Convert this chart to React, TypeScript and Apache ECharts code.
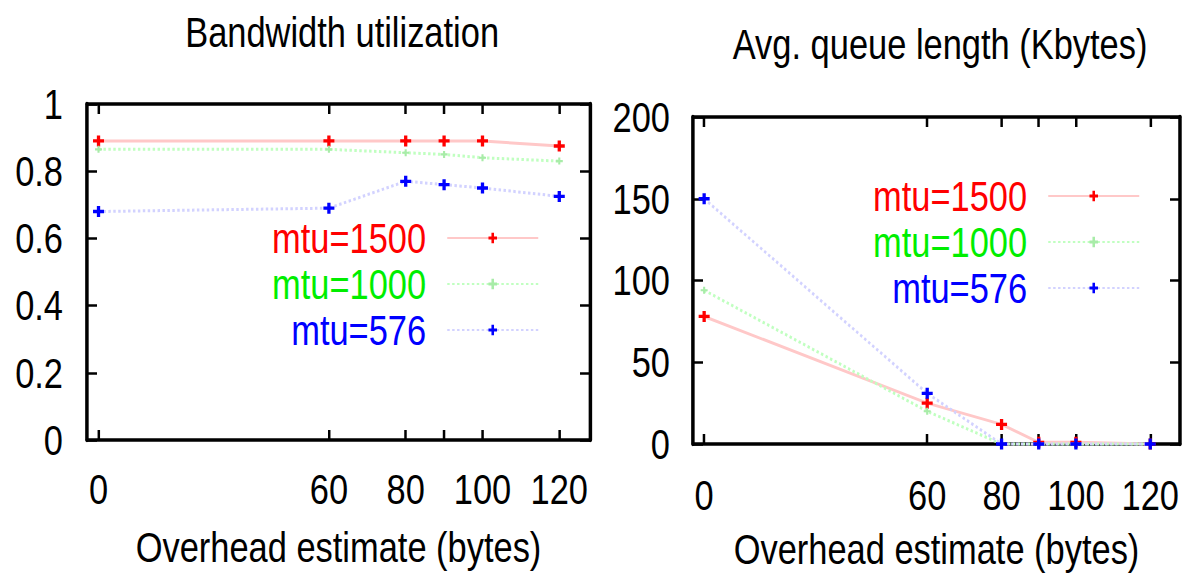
import React, { useEffect, useRef } from "react";
import * as echarts from "echarts";

const overhead = [0, 60, 80, 90, 100, 120];
const tickValues = [0, 60, 80, 90, 100, 120];
const labelValues = [0, 60, 80, 100, 120];

const bwMtu1500 = [0.89, 0.89, 0.89, 0.89, 0.89, 0.875];
const bwMtu1000 = [0.865, 0.865, 0.855, 0.85, 0.84, 0.83];
const bwMtu576 = [0.68, 0.69, 0.77, 0.76, 0.75, 0.725];

const qMtu1500 = [78, 25, 12, 1, 1, 0];
const qMtu1000 = [94, 20, 0, 0, 0, 0];
const qMtu576 = [150, 31, 0, 0, 0, 0];

const seriesNames = ["mtu=1500", "mtu=1000", "mtu=576"];

// The reference uses a tall, narrow sans face: draw in Liberation Sans and
// compress the whole chart horizontally.
const SX = 0.82;
const X = (px: number) => px / SX;
const FONT = "'Liberation Sans', Arial, sans-serif";
const FS = 42;
const PLUS = "path://M3.5,0H6.5V3.5H10V6.5H6.5V10H3.5V6.5H0V3.5H3.5Z";

const pairs = (ys: number[]) => overhead.map((x, i) => [x, ys[i]]);

const styles = [
  { line: { color: "#ffc8c8", width: 3, type: "solid" as const }, sym: "#ff0000", size: 11 },
  { line: { color: "#c0ffc0", width: 3, type: [3, 3] }, sym: "#a8eca8", size: 7 },
  { line: { color: "#d2d2ff", width: 3, type: [3, 3] }, sym: "#0000ff", size: 11 },
];
const textColors = ["#ff0000", "#00ee00", "#0000ff"];

function mkSeries(data: number[][], idx: number, axis: number) {
  const s = styles[idx];
  return {
    type: "line",
    name: seriesNames[idx],
    xAxisIndex: axis,
    yAxisIndex: axis,
    data,
    symbol: PLUS,
    symbolSize: [X(s.size), s.size],
    itemStyle: { color: s.sym },
    lineStyle: s.line,
    clip: false,
    z: 3 + idx,
  };
}

function xAxes(grid: number, name: string, nameGap: number, margin: number) {
  const common = {
    type: "value",
    gridIndex: grid,
    min: -3,
    max: 128,
    splitLine: { show: false },
    axisLine: { show: true, onZero: false, lineStyle: { color: "#000", width: 3.5 } },
    axisTick: {
      show: true,
      inside: true,
      length: 10,
      customValues: tickValues,
      lineStyle: { color: "#000", width: X(2.5) },
    },
  };
  return [
    {
      ...common,
      position: "bottom",
      name,
      nameLocation: "middle",
      nameGap,
      nameTextStyle: { fontFamily: FONT, fontSize: FS, color: "#000" },
      axisLabel: {
        customValues: labelValues,
        margin,
        fontFamily: FONT,
        fontSize: FS,
        color: "#000",
      },
    },
    { ...common, position: "top", axisLabel: { show: false } },
  ];
}

function yAxes(grid: number, max: number, interval: number, margin: number) {
  const common = {
    type: "value",
    gridIndex: grid,
    min: 0,
    max,
    interval,
    splitLine: { show: false },
    axisLine: { show: true, onZero: false, lineStyle: { color: "#000", width: X(3.5) } },
    axisTick: { show: true, inside: true, length: X(10), lineStyle: { color: "#000", width: 2.5 } },
  };
  return [
    {
      ...common,
      position: "left",
      axisLabel: { margin: X(margin), fontFamily: FONT, fontSize: FS, color: "#000" },
    },
    { ...common, position: "right", axisLabel: { show: false } },
  ];
}

function legend(left: number, top: number) {
  return {
    orient: "vertical",
    left: X(left),
    top,
    padding: 0,
    itemGap: 0,
    align: "right",
    itemWidth: X(91),
    itemHeight: 13,
    selectedMode: false,
    data: seriesNames.map((n, i) => ({
      name: n,
      textStyle: {
        color: textColors[i],
        fontFamily: FONT,
        fontSize: FS,
        lineHeight: 46,
        padding: [0, X(17), 0, 0],
      },
    })),
  };
}

export default function App() {
  const ref = useRef<HTMLDivElement>(null);
  useEffect(() => {
    if (!ref.current) return;
    const chart = echarts.init(ref.current, null, { renderer: "svg" });
    chart.setOption({
      animation: false,
      backgroundColor: "#fff",
      title: [
        {
          text: "Bandwidth utilization",
          left: X(338),
          top: 6,
          textAlign: "center",
          textStyle: { fontFamily: FONT, fontSize: FS, fontWeight: "normal", color: "#000" },
        },
        {
          text: "Avg. queue length (Kbytes)",
          left: X(936),
          top: 18,
          textAlign: "center",
          textStyle: { fontFamily: FONT, fontSize: FS, fontWeight: "normal", color: "#000" },
        },
      ],
      grid: [
        { left: X(87), top: 104, width: X(503), height: 336 },
        { left: X(693), top: 117, width: X(487), height: 327 },
      ],
      xAxis: [
        ...xAxes(0, "Overhead estimate (bytes)", 86, 28),
        ...xAxes(1, "Overhead estimate (bytes)", 84, 30),
      ],
      yAxis: [...yAxes(0, 1, 0.2, 24), ...yAxes(1, 200, 50, 23)],
      legend: [legend(272, 215), legend(873, 173)],
      series: [
        mkSeries(pairs(bwMtu1500), 0, 0),
        mkSeries(pairs(bwMtu1000), 1, 0),
        mkSeries(pairs(bwMtu576), 2, 0),
        mkSeries(pairs(qMtu1500), 0, 2),
        mkSeries(pairs(qMtu1000), 1, 2),
        mkSeries(pairs(qMtu576), 2, 2),
      ],
    });
    return () => chart.dispose();
  }, []);
  return (
    <div
      ref={ref}
      style={{
        position: "absolute",
        left: 0,
        top: 0,
        width: X(1188),
        height: 580,
        transform: `scaleX(${SX})`,
        transformOrigin: "0 0",
      }}
    />
  );
}
